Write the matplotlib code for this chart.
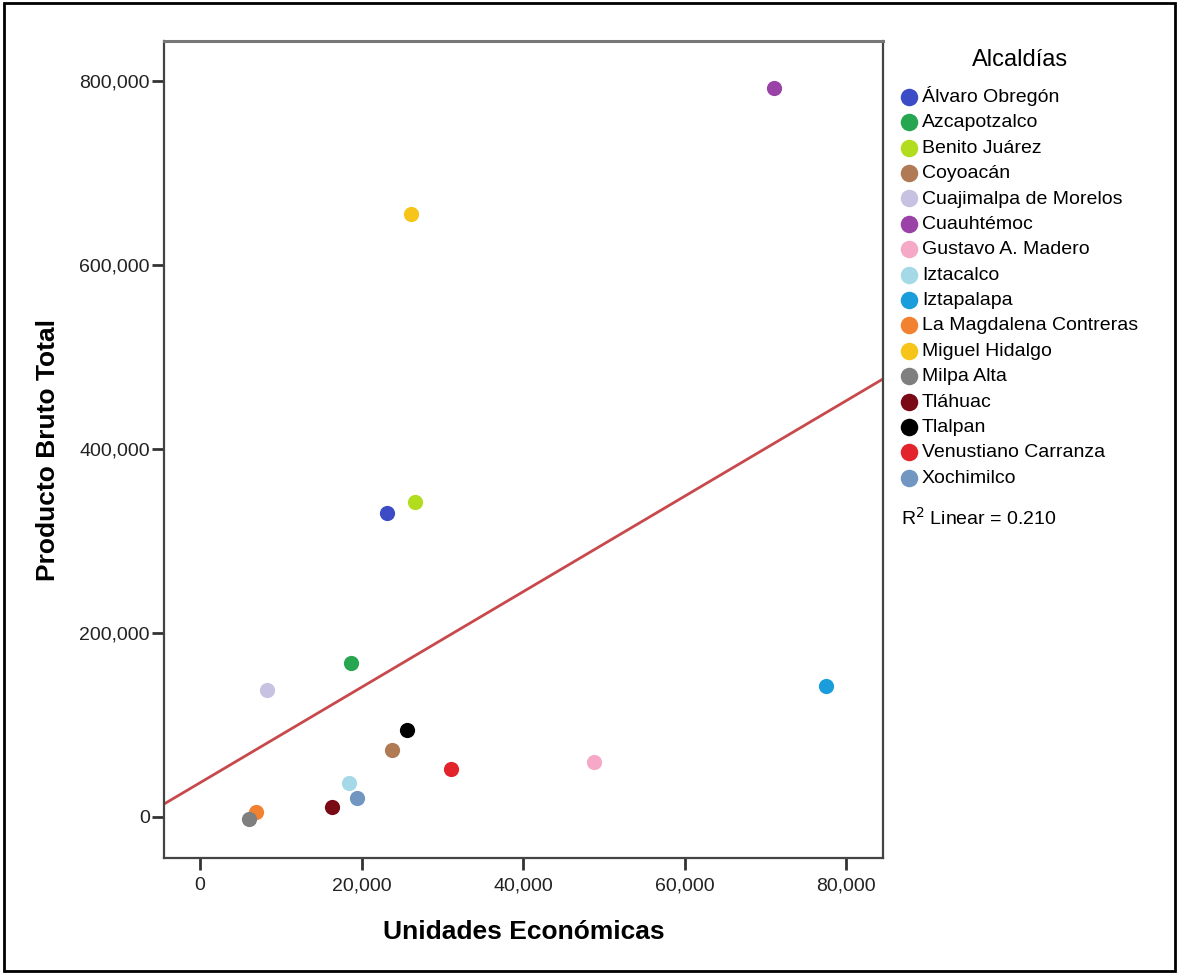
import numpy as np
import matplotlib
matplotlib.use("Agg")
from matplotlib import pyplot as plt
from matplotlib.ticker import FuncFormatter
from matplotlib.patches import Rectangle

plt.rcParams['font.family'] = ['Liberation Sans', 'DejaVu Sans']

alcaldias = ["Álvaro Obregón", "Azcapotzalco", "Benito Juárez", "Coyoacán",
             "Cuajimalpa de Morelos", "Cuauhtémoc", "Gustavo A. Madero", "Iztacalco",
             "Iztapalapa", "La Magdalena Contreras", "Miguel Hidalgo", "Milpa Alta",
             "Tláhuac", "Tlalpan", "Venustiano Carranza", "Xochimilco"]
unidades = [23120, 18700, 26625, 23815, 8260, 71120, 48830, 18450,
            77520, 6900, 26090, 6030, 16390, 25675, 31045, 19440]
producto = [330600, 167500, 342600, 72500, 137500, 792800, 59800, 37000,
            142000, 4800, 655500, -3000, 10500, 94300, 51900, 20700]
colores = ["#3c4cc6", "#26a650", "#b2dc1e", "#b07a55", "#c8c2e2", "#9a42a8",
           "#f5a9c6", "#a6d9e8", "#1b9ddc", "#f28232", "#f7c51a", "#7f7f7f",
           "#7a0a16", "#000000", "#e2232b", "#7196c2"]

fig = plt.figure(figsize=(11.79, 9.74), dpi=100)
ax = fig.add_axes([0.1394, 0.1188, 0.6098, 0.8394])

for i in range(len(alcaldias)):
    ax.scatter(unidades[i], producto[i], s=120, color=colores[i], label=alcaldias[i],
               linewidths=0, zorder=3)

# recta de regresion lineal
m, b = np.polyfit(unidades, producto, 1)
ax.axline((0, b), slope=m, color="#c8494c", lw=2.0, zorder=2)

ax.set_xlim(-4420, 84620)
ax.set_ylim(-45240, 843940)
ax.set_xticks([0, 20000, 40000, 60000, 80000])
ax.set_yticks([0, 200000, 400000, 600000, 800000])
fmt = FuncFormatter(lambda v, p: "{:,.0f}".format(v))
ax.xaxis.set_major_formatter(fmt)
ax.yaxis.set_major_formatter(fmt)
ax.tick_params(direction="out", length=8.5, width=2, color="#333333",
               labelsize=14, labelcolor="#222222", pad=2)
ax.tick_params(axis="x", pad=5)
for s in ax.spines.values():
    s.set_color("#444444")
    s.set_linewidth(1.6)
ax.spines["top"].set_color("#777777")
ax.spines["top"].set_linewidth(2.2)

ax.set_xlabel("Unidades Económicas", fontsize=19, fontweight="bold", labelpad=19)
ax.set_ylabel("Producto Bruto Total", fontsize=19, fontweight="bold", labelpad=14)

leg = ax.legend(loc="upper left", bbox_to_anchor=(0.765, 0.950),
                bbox_transform=fig.transFigure, frameon=False, fontsize=14,
                title="Alcaldías", title_fontsize=17, markerscale=1.15,
                handletextpad=0.33, handlelength=0.7, labelspacing=0.40,
                borderpad=0, borderaxespad=0)
leg._legend_box.sep = 11

fig.text(0.764, 0.468, "R$^2$ Linear = 0.210", fontsize=14, ha="left", va="center")

fig.patches.append(Rectangle((0.003, 0.003), 0.994, 0.994, transform=fig.transFigure,
                             fill=False, edgecolor="black", lw=2))

fig.savefig("out.png", dpi=100)
